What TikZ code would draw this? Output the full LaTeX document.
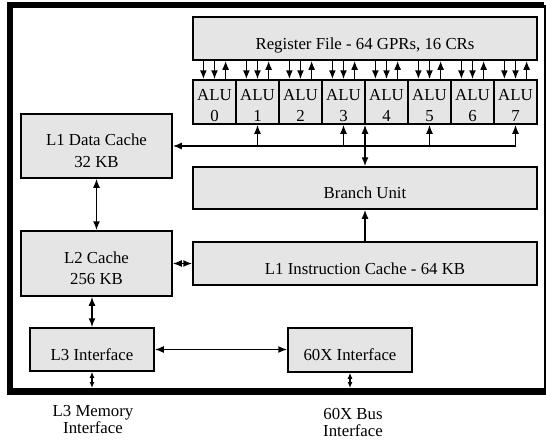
\documentclass[tikz,border=0pt]{standalone}
\usepackage{fontspec}
\setmainfont{Liberation Serif}
\usetikzlibrary{positioning,calc,arrows.meta}

\begin{document}
\begin{tikzpicture}[
    x=1pt, y=-1pt,
    font=\fontsize{16.8}{21.5}\selectfont,
    unitbox/.style={rectangle, draw, fill=black!10, line width=1.5pt, inner sep=0pt, align=center,
        text height=21pt, text depth=0pt, minimum width=#1},
    unitbox/.default=344pt,
    twoline/.style={text height=42pt},
    alubox/.style={unitbox=43pt, text height=39pt, minimum height=44pt},
    bus/.style={line width=1.6pt, -{Latex[length=9pt,width=7pt]}},
    twoway/.style={line width=1.6pt, {Latex[length=9pt,width=7pt]}-{Latex[length=9pt,width=7pt]}},
    pin/.style={line width=1.3pt, {Latex[length=6pt,width=5pt]}-{Latex[length=6pt,width=5pt]}},
    ]
\useasboundingbox (0,0) rectangle (546,439);

%Frame
\draw[line width=6.5pt] (544,5) -- (10,5) -- (10,391.5) -- (546,391.5);
\draw[line width=2pt] (544.5,5) -- (544.5,391.5);

%Nodes
\node[unitbox, minimum height=43pt] (regfile) at (365,38.5) {Register File - 64 GPRs, 16 CRs};
\foreach \i in {0,...,7}
    \node[alubox] (alu\i) at (214.5+43*\i,102) {ALU\\\i};
\node[unitbox=151pt, twoline, minimum height=64pt] (l1d) at (96.5,146)  {L1 Data Cache\\32 KB};
\node[unitbox, minimum height=42pt]       (branch) at (365,188)   {Branch Unit};
\node[unitbox, minimum height=43pt]       (l1i)    at (365,263.5) {L1 Instruction Cache - 64 KB};
\node[unitbox=151pt, twoline, minimum height=65pt] (l2) at (96.5,263.5) {L2 Cache\\256 KB};
\node[unitbox=124pt, minimum height=43pt] (l3)     at (92,349.5)  {L3 Interface};
\node[unitbox=124pt, minimum height=44pt] (x60)    at (350,350)   {60X Interface};
\coordinate (l3pin)  at (92,388);
\coordinate (x60pin) at (350,388);
\node[align=center, font=\fontsize{16.8}{17}\selectfont] (l3mem)  at (93,420)  {L3 Memory\\Interface};
\node[align=center, font=\fontsize{16.8}{17}\selectfont] (x60bus) at (353,422) {60X Bus\\Interface};

%Lines
% register file ports: two reads down, one write up per ALU
\foreach \i in {0,...,7}{
    \coordinate (a\i) at ($(alu\i.north west)!.25!(alu\i.north east)$);
    \coordinate (b\i) at ($(alu\i.north west)!.5!(alu\i.north east)$);
    \coordinate (c\i) at ($(alu\i.north west)!.75!(alu\i.north east)$);
    \draw[bus] (regfile.south -| a\i) -- (a\i);
    \draw[bus] (regfile.south -| b\i) -- (b\i);
    \draw[bus] (c\i) -- (regfile.south -| c\i);
}
% data bus
\draw[bus] (alu7.south |- l1d.east) -- (l1d.east);
\foreach \i in {1,3,5,7}
    \draw[bus] (alu\i.south |- l1d.east) -- (alu\i.south);
\draw[twoway] (branch.north |- alu3.south) -- (branch.north);
\draw[bus] (l1i) -- (branch);
\draw[twoway] (l1d) -- (l2);
\draw[twoway] (l2) -- (l1i);
\draw[twoway] (l3.north |- l2.south) -- (l3.north);
\draw[twoway] (l3.east) -- (l3.east -| x60.west);
\draw[pin] (l3) -- (l3pin);
\draw[pin] (x60) -- (x60pin);
\end{tikzpicture}
\end{document}
